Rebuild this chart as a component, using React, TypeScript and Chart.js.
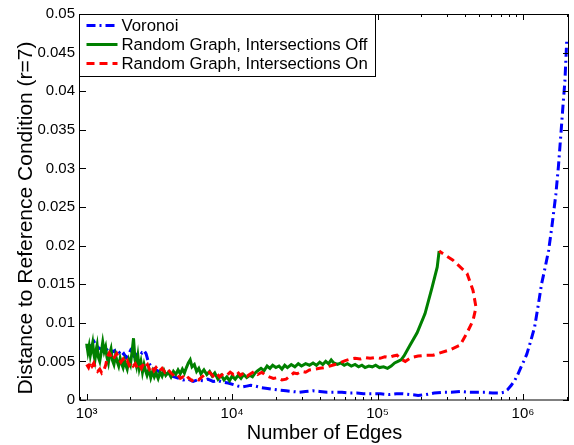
import React, { useEffect, useRef } from 'react';
import { Chart, registerables } from 'chart.js';

Chart.register(...registerables);

const FONT = '"Liberation Sans", Arial, Helvetica, sans-serif';

const seriesLabels = ['Voronoi', 'Random Graph, Intersections Off', 'Random Graph, Intersections On'];
const seriesColors = ['#0000ff', '#008000', '#ff0000'];
const seriesDashes: number[][] = [[9, 4, 2, 4], [], [8, 5]];

const xTickValues = [1e3, 1e4, 1e5, 1e6];
const xTickLabels = ['10³', '10⁴', '10⁵', '10⁶'];
const xTitle = 'Number of Edges';
const yTitle = 'Distance to Reference Condition (r=7)';

// [number of edges, distance]
const voronoiPoints: [number, number][] = [
  [1000, 0.0070], [1040, 0.0066], [1080, 0.0072], [1120, 0.0076], [1160, 0.0071], [1200, 0.0068],
  [1250, 0.0066], [1300, 0.0063], [1350, 0.0067], [1400, 0.0064], [1450, 0.0066], [1500, 0.0062],
  [1560, 0.0064], [1620, 0.0058], [1680, 0.0061], [1740, 0.0057], [1800, 0.0060], [1870, 0.0055],
  [1940, 0.0059], [2000, 0.0064], [2080, 0.0058], [2160, 0.0055], [2240, 0.0060], [2320, 0.0063],
  [2400, 0.0061], [2480, 0.0064], [2560, 0.0060], [2650, 0.0050], [2750, 0.0044], [2900, 0.0041],
  [3050, 0.0038], [3200, 0.0036], [3400, 0.0034], [3600, 0.0033], [3800, 0.0031], [4000, 0.0030],
  [4300, 0.0028], [4600, 0.0026], [5000, 0.0027], [5400, 0.0024], [5800, 0.0026], [6300, 0.0025],
  [6800, 0.0027], [7400, 0.0024], [8000, 0.0025], [8700, 0.0023], [9400, 0.0022], [10200, 0.0020],
  [11000, 0.0018], [11800, 0.0017], [12600, 0.0018], [13400, 0.0019], [14500, 0.0018], [16000, 0.0016],
  [17500, 0.0015], [19000, 0.0014], [21000, 0.0013], [23500, 0.0012], [26000, 0.0011], [29000, 0.0010],
  [32000, 0.0011], [36000, 0.0012], [40000, 0.0011], [45000, 0.0010], [50000, 0.0010], [57000, 0.0010],
  [64000, 0.0009], [72000, 0.0009], [80000, 0.0008], [92000, 0.0008], [105000, 0.0008], [120000, 0.0007],
  [135000, 0.0008], [150000, 0.0008], [170000, 0.0007], [190000, 0.0006], [215000, 0.0007], [245000, 0.0009],
  [280000, 0.0010], [320000, 0.0010], [370000, 0.0011], [420000, 0.0010], [480000, 0.0010], [550000, 0.0010],
  [620000, 0.0009], [690000, 0.0009], [740000, 0.0010], [780000, 0.0013], [830000, 0.0019], [880000, 0.0026],
  [920000, 0.0033], [970000, 0.0043], [1010000, 0.0050], [1060000, 0.0059], [1120000, 0.0074], [1200000, 0.0094],
  [1270000, 0.0122], [1340000, 0.0150], [1420000, 0.0172], [1500000, 0.0194], [1580000, 0.0225], [1680000, 0.0266],
  [1750000, 0.0302], [1820000, 0.0344], [1880000, 0.0380], [1940000, 0.0413], [2000000, 0.0468],
];

const intersectionsOffPoints: [number, number][] = [
  [1000, 0.0073], [1020, 0.0062], [1040, 0.0070], [1060, 0.0058], [1080, 0.0066], [1100, 0.0074],
  [1120, 0.0060], [1140, 0.0052], [1160, 0.0064], [1180, 0.0071], [1200, 0.0056], [1230, 0.0050],
  [1260, 0.0062], [1290, 0.0075], [1320, 0.0063], [1350, 0.0069], [1380, 0.0055], [1410, 0.0048],
  [1440, 0.0060], [1470, 0.0066], [1500, 0.0052], [1540, 0.0046], [1580, 0.0058], [1620, 0.0050],
  [1660, 0.0044], [1700, 0.0054], [1740, 0.0047], [1780, 0.0042], [1820, 0.0051], [1860, 0.0045],
  [1900, 0.0040], [1950, 0.0052], [2000, 0.0046], [2050, 0.0062], [2100, 0.0080], [2150, 0.0052],
  [2200, 0.0044], [2250, 0.0057], [2300, 0.0041], [2360, 0.0050], [2420, 0.0036], [2480, 0.0046],
  [2540, 0.0038], [2600, 0.0032], [2680, 0.0040], [2760, 0.0029], [2840, 0.0037], [2920, 0.0030],
  [3000, 0.0035], [3100, 0.0028], [3200, 0.0036], [3300, 0.0031], [3400, 0.0038], [3500, 0.0032],
  [3650, 0.0036], [3800, 0.0030], [3950, 0.0037], [4100, 0.0033], [4250, 0.0039], [4400, 0.0034],
  [4550, 0.0040], [4700, 0.0035], [4850, 0.0042], [5000, 0.0048], [5150, 0.0052], [5300, 0.0043],
  [5500, 0.0046], [5700, 0.0037], [5900, 0.0041], [6100, 0.0034], [6400, 0.0039], [6700, 0.0033],
  [7000, 0.0037], [7300, 0.0031], [7600, 0.0035], [8000, 0.0027], [8400, 0.0032], [8800, 0.0026],
  [9200, 0.0030], [9600, 0.0025], [10000, 0.0031], [10500, 0.0027], [11000, 0.0032], [11500, 0.0028],
  [12000, 0.0033], [12600, 0.0029], [13200, 0.0032], [13800, 0.0030], [14400, 0.0035], [15000, 0.0038],
  [15800, 0.0041], [16600, 0.0038], [17400, 0.0044], [18200, 0.0041], [19000, 0.0045], [20000, 0.0042],
  [21000, 0.0044], [22000, 0.0040], [23000, 0.0045], [24000, 0.0042], [25500, 0.0046], [27000, 0.0043],
  [28500, 0.0047], [30000, 0.0044], [32000, 0.0047], [34000, 0.0045], [36000, 0.0048], [38000, 0.0045],
  [40000, 0.0049], [42000, 0.0046], [44000, 0.0050], [46000, 0.0047], [48000, 0.0052], [50000, 0.0048],
  [53000, 0.0046], [56000, 0.0048], [59000, 0.0045], [62000, 0.0047], [66000, 0.0044], [70000, 0.0046],
  [74000, 0.0043], [78000, 0.0045], [82000, 0.0042], [87000, 0.0044], [92000, 0.0043], [97000, 0.0045],
  [103000, 0.0042], [110000, 0.0043], [117000, 0.0041], [124000, 0.0044], [131000, 0.0048], [138000, 0.0050],
  [145000, 0.0052], [152000, 0.0057], [167000, 0.0071], [187000, 0.0087], [212000, 0.0112], [237000, 0.0146],
  [257000, 0.0172], [265000, 0.0193],
];

const intersectionsOnPoints: [number, number][] = [
  [1000, 0.0046], [1030, 0.0042], [1060, 0.0049], [1090, 0.0044], [1120, 0.0048], [1150, 0.0041],
  [1190, 0.0037], [1230, 0.0040], [1270, 0.0035], [1310, 0.0038], [1350, 0.0045], [1390, 0.0056],
  [1430, 0.0061], [1470, 0.0057], [1510, 0.0052], [1560, 0.0056], [1610, 0.0060], [1660, 0.0054],
  [1720, 0.0049], [1780, 0.0053], [1840, 0.0048], [1900, 0.0051], [1960, 0.0045], [2020, 0.0049],
  [2090, 0.0044], [2160, 0.0047], [2230, 0.0042], [2300, 0.0046], [2380, 0.0041], [2460, 0.0047],
  [2540, 0.0043], [2620, 0.0046], [2700, 0.0040], [2800, 0.0044], [2900, 0.0038], [3000, 0.0042],
  [3150, 0.0037], [3300, 0.0041], [3450, 0.0036], [3600, 0.0040], [3800, 0.0035], [4000, 0.0031],
  [4200, 0.0033], [4400, 0.0028], [4600, 0.0030], [4800, 0.0026], [5000, 0.0029], [5300, 0.0025],
  [5600, 0.0028], [5900, 0.0026], [6200, 0.0030], [6600, 0.0034], [7000, 0.0036], [7400, 0.0031],
  [7800, 0.0035], [8200, 0.0030], [8700, 0.0034], [9200, 0.0032], [9700, 0.0036], [10200, 0.0033],
  [10800, 0.0037], [11400, 0.0032], [12000, 0.0035], [12700, 0.0031], [13400, 0.0034], [14200, 0.0037],
  [15000, 0.0033], [16000, 0.0036], [17000, 0.0032], [18000, 0.0030], [19200, 0.0028], [20500, 0.0029],
  [22000, 0.0026], [23500, 0.0027], [25000, 0.0031], [26500, 0.0035], [28000, 0.0034], [30000, 0.0037],
  [32000, 0.0036], [34000, 0.0039], [37000, 0.0040], [40000, 0.0041], [43000, 0.0042], [47000, 0.0044],
  [51000, 0.0046], [55000, 0.0048], [60000, 0.0051], [65000, 0.0053], [70000, 0.0054], [76000, 0.0053],
  [82000, 0.0055], [89000, 0.0054], [96000, 0.0055], [104000, 0.0054], [112000, 0.0056], [120000, 0.0055],
  [128000, 0.0057], [136000, 0.0058], [145000, 0.0053], [155000, 0.0050], [170000, 0.0055], [190000, 0.0057],
  [215000, 0.0058], [241000, 0.0058], [269000, 0.0061], [315000, 0.0065], [369000, 0.0071], [412000, 0.0087],
  [453000, 0.0103], [475000, 0.0120], [453000, 0.0142], [412000, 0.0164], [330000, 0.0181], [265000, 0.0193],
];

const seriesPoints = [voronoiPoints, intersectionsOffPoints, intersectionsOnPoints];

const X_MIN = 900;
const X_MAX = 2.07e6;
const Y_MIN = 0;
const Y_MAX = 0.05;
const Y_STEP = 0.005;

const framePlugin = {
  id: 'matlabFrame',
  afterDraw(chart: any) {
    const { ctx, chartArea: a } = chart;
    // y axis title
    ctx.save();
    ctx.translate(26, 218);
    ctx.rotate(-Math.PI / 2);
    ctx.font = `21px ${FONT}`;
    ctx.fillStyle = '#000';
    ctx.textAlign = 'center';
    ctx.textBaseline = 'middle';
    ctx.fillText(yTitle, 0, 0);
    ctx.restore();
    void a;
  },
  afterDatasetsDraw(chart: any) {
    const { ctx, chartArea: a, scales } = chart;
    const xs = scales.x;
    const ys = scales.y;
    ctx.save();
    ctx.strokeStyle = '#000';
    ctx.lineWidth = 1;
    ctx.setLineDash([]);
    ctx.beginPath();
    for (let n = 2; n <= 6; n++) {
      for (let m = 1; m <= 9; m++) {
        const v = m * Math.pow(10, n);
        if (v < xs.min || v > xs.max) continue;
        const px = Math.round(xs.getPixelForValue(v)) + 0.5;
        const len = m === 1 ? 6 : 3;
        ctx.moveTo(px, a.bottom);
        ctx.lineTo(px, a.bottom - len);
        ctx.moveTo(px, a.top);
        ctx.lineTo(px, a.top + len);
      }
    }
    ys.ticks.forEach((t: any) => {
      const py = Math.round(ys.getPixelForValue(t.value)) + 0.5;
      ctx.moveTo(a.left, py);
      ctx.lineTo(a.left + 6, py);
      ctx.moveTo(a.right, py);
      ctx.lineTo(a.right - 6, py);
    });
    ctx.stroke();
    ctx.strokeRect(Math.round(a.left) - 0.5, Math.round(a.top) + 0.5, Math.round(a.right - a.left), Math.round(a.bottom - a.top) - 0.5);

    // legend
    const lx = Math.round(a.left) - 0.5;
    const ly = Math.round(a.top) + 0.5;
    const lw = 296;
    const lh = 62;
    ctx.fillStyle = '#fff';
    ctx.fillRect(lx, ly, lw, lh);
    ctx.strokeRect(lx, ly, lw, lh);
    ctx.font = `16.8px ${FONT}`;
    ctx.textBaseline = 'middle';
    ctx.textAlign = 'left';
    seriesLabels.forEach((label, i) => {
      const cy = ly + 11 + i * 19;
      ctx.beginPath();
      ctx.strokeStyle = seriesColors[i];
      ctx.lineWidth = 3;
      ctx.setLineDash(seriesDashes[i]);
      ctx.moveTo(lx + 7, cy);
      ctx.lineTo(lx + 38, cy);
      ctx.stroke();
      ctx.setLineDash([]);
      ctx.fillStyle = '#000';
      ctx.fillText(label, lx + 42, cy + 1);
    });
    ctx.restore();
  },
};

export default function App() {
  const ref = useRef<HTMLCanvasElement>(null);
  useEffect(() => {
    if (!ref.current) return;
    const order = [2, 1, 0];
    const chart = new Chart(ref.current, {
      type: 'scatter',
      data: {
        datasets: seriesLabels.map((label, i) => ({
          label,
          data: seriesPoints[i].map(([x, y]) => ({ x, y })),
          showLine: true,
          borderColor: seriesColors[i],
          backgroundColor: seriesColors[i],
          borderWidth: 3,
          borderDash: seriesDashes[i],
          pointRadius: 0,
          pointHoverRadius: 0,
          tension: 0,
          fill: false,
          order: order[i],
        })),
      },
      options: {
        responsive: false,
        animation: false,
        devicePixelRatio: 1,
        layout: { padding: { top: 13, right: 5, left: 0, bottom: 0 } },
        plugins: { legend: { display: false }, tooltip: { enabled: false } },
        scales: {
          x: {
            type: 'logarithmic',
            min: X_MIN,
            max: X_MAX,
            grid: { display: false, drawTicks: false },
            border: { display: false },
            ticks: {
              autoSkip: false,
              maxRotation: 0,
              padding: 5,
              color: '#000',
              font: { family: FONT, size: 15 },
              callback: (v: any) => {
                const i = xTickValues.findIndex((t) => Math.abs(t - Number(v)) / t < 1e-6);
                return i >= 0 ? xTickLabels[i] : '';
              },
            },
            title: {
              display: true,
              text: xTitle,
              color: '#000',
              font: { family: FONT, size: 20 },
              padding: { top: 0, bottom: 0 },
            },
            afterFit: (s: any) => { s.height = 45; },
          },
          y: {
            min: Y_MIN,
            max: Y_MAX,
            grid: { display: false, drawTicks: false },
            border: { display: false },
            ticks: {
              stepSize: Y_STEP,
              padding: 5,
              color: '#000',
              font: { family: FONT, size: 15 },
              callback: (v: any) => String(Number(Number(v).toFixed(3))),
            },
            afterFit: (s: any) => { s.width = 80; },
          },
        },
      },
      plugins: [framePlugin],
    });
    return () => chart.destroy();
  }, []);
  return (
    <canvas
      ref={ref}
      width={574}
      height={445}
      style={{ position: 'fixed', left: 0, top: 0, width: 574, height: 445, background: '#fff' }}
    />
  );
}
